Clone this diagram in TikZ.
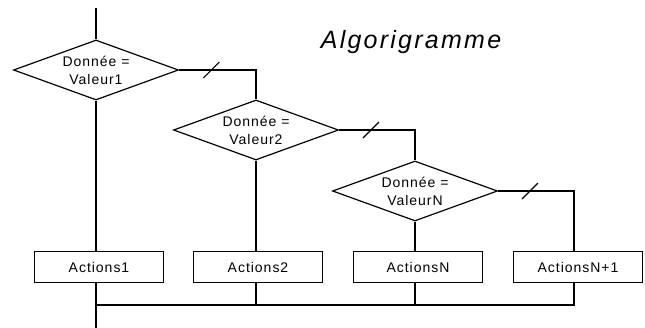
\documentclass[tikz,border=0pt]{standalone}
\usepackage{fontspec}
\setmainfont{Liberation Sans}
\newfontfamily\boxfont[LetterSpace=7]{Liberation Sans}
\newfontfamily\titlefont[LetterSpace=9]{Liberation Sans}
\usetikzlibrary{shapes.geometric}
\tikzset{
	test/.style={diamond, draw, aspect=2.75, inner sep=0pt, minimum width=165pt, minimum height=60pt, align=center, font=\boxfont\fontsize{14}{18}\selectfont},
	action/.style={rectangle, draw, minimum width=129pt, minimum height=31pt, inner sep=0pt, font=\boxfont\fontsize{14}{16}\selectfont}
}
\begin{document}
\begin{tikzpicture}[x=1pt, y=-1pt, line width=1.2pt]
	\useasboundingbox (0, 0) rectangle (645, 328);
	\node[font=\itshape\titlefont\fontsize{25}{28}\selectfont] (title) at (411, 42) {Algorigramme};
	% tests
	\node[test] (d1) at (96, 70) {Donnée =\\Valeur1};
	\node[test] (d2) at (256, 130) {Donnée =\\Valeur2};
	\node[test] (d3) at (415, 191) {Donnée =\\ValeurN};
	% actions
	\node[action] (a1) at (99, 267) {Actions1};
	\node[action] (a2) at (258, 267) {Actions2};
	\node[action] (aN) at (418, 267) {ActionsN};
	\node[action] (aN1) at (578, 267) {ActionsN+1};
	\coordinate (in) at (96, 8);
	\coordinate (out) at (96, 328);
	\coordinate (merge) at (96, 305);
	% links
	\draw (in) -- (d1.north);
	\draw (d1.south) -- (d1.south |- a1.north);
	\draw (d2.south) -- (d2.south |- a2.north);
	\draw (d3.south) -- (d3.south |- aN.north);
	\draw (d1.east) -- coordinate[pos=0.42] (s1) (d1.east -| d2.north) -- (d2.north);
	\draw (d2.east) -- coordinate[pos=0.42] (s2) (d2.east -| d3.north) -- (d3.north);
	\draw (d3.east) -- coordinate[pos=0.42] (s3) (d3.east -| 574, 0) -- (574, 0 |- aN1.north);
	\foreach \s in {s1, s2, s3}
		\draw ([shift={(-8, 8)}]\s) -- ([shift={(8, -8)}]\s);
	% merge
	\draw (d1.south |- a1.south) -- (out);
	\draw (d2.south |- a2.south) -- (d2.south |- merge);
	\draw (d3.south |- aN.south) -- (d3.south |- merge);
	\draw (574, 0 |- aN1.south) -- (574, 0 |- merge) -- (merge);
\end{tikzpicture}
\end{document}
